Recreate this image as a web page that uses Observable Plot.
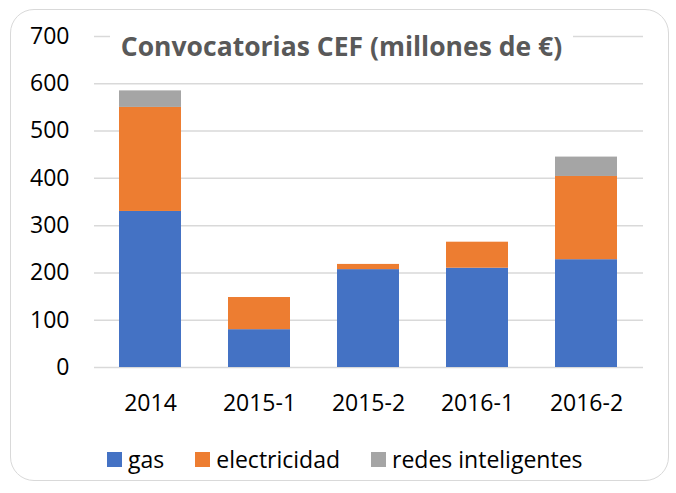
<!DOCTYPE html>
<html>
<head>
<meta charset="utf-8">
<script src="https://cdn.jsdelivr.net/npm/d3@7"></script>
<script src="https://cdn.jsdelivr.net/npm/@observablehq/plot@0.6"></script>
<style>
  html, body { margin: 0; padding: 0; background: #fff; }
  #wrap { position: relative; width: 676px; height: 493px; overflow: hidden; font-family: "Open Sans", sans-serif; }
  #frame { position: absolute; left: 10px; top: 9px; width: 659px; height: 472px; border: 1.5px solid #d9d9d9; border-radius: 24px; box-sizing: border-box; }
  #chart { position: absolute; left: 0; top: 0; }
  #title { position: absolute; left: 110px; width: 463px; top: 27px; height: 38px; background: #fff; color: #595959; font-weight: bold; font-size: 26.5px; line-height: 38px; text-align: center; white-space: nowrap; }
  #legend { position: absolute; left: 107px; top: 444px; display: flex; align-items: center; gap: 31px; font-size: 23px; color: #000; line-height: 30px; }
  .item { display: flex; align-items: center; }
  .sw { width: 15px; height: 15px; margin-right: 6px; }
</style>
</head>
<body>
<div id="wrap">
  <div id="frame"></div>
  <div id="chart"></div>
  <div id="title">Convocatorias CEF (millones de €)</div>
  <div id="legend"></div>
</div>
<script>
const categories = ["2014", "2015-1", "2015-2", "2016-1", "2016-2"];
const series = ["gas", "electricidad", "redes inteligentes"];
const colors = ["#4472C4", "#ED7D31", "#A5A5A5"];
const gas = [330, 80, 207, 210, 228];
const electricidad = [220, 68, 11, 55, 176];
const redes = [35, 0, 0, 0, 41];
const yTicks = [0, 100, 200, 300, 400, 500, 600, 700];

const values = [gas, electricidad, redes];
const data = [];
series.forEach((s, si) => categories.forEach((c, ci) => data.push({cat: c, serie: s, value: values[si][ci]})));

const chart = Plot.plot({
  width: 676,
  height: 430,
  marginTop: 36,
  marginBottom: 63,
  marginLeft: 94,
  marginRight: 33,
  style: {fontFamily: "Open Sans, sans-serif", fontSize: "23px", color: "#000", background: "transparent"},
  x: {domain: categories, paddingInner: 0.43, paddingOuter: 0.215, label: null},
  y: {domain: [0, 700], label: null},
  color: {domain: series, range: colors},
  marks: [
    Plot.gridY(yTicks, {stroke: "#d9d9d9", strokeOpacity: 1, strokeWidth: 1.5}),
    Plot.barY(data, Plot.stackY({x: "cat", y: "value", fill: "serie"})),
    Plot.axisY(yTicks, {tickSize: 0, tickPadding: 25, fontSize: 23, fill: "#000", label: null}),
    Plot.axisX({tickSize: 0, tickPadding: 27, fontSize: 23, fill: "#000", label: null})
  ]
});
document.getElementById("chart").appendChild(chart);

const legend = document.getElementById("legend");
series.forEach((s, i) => {
  const it = document.createElement("div");
  it.className = "item";
  it.innerHTML = `<span class="sw" style="background:${colors[i]}"></span><span>${s}</span>`;
  legend.appendChild(it);
});
</script>
</body>
</html>
